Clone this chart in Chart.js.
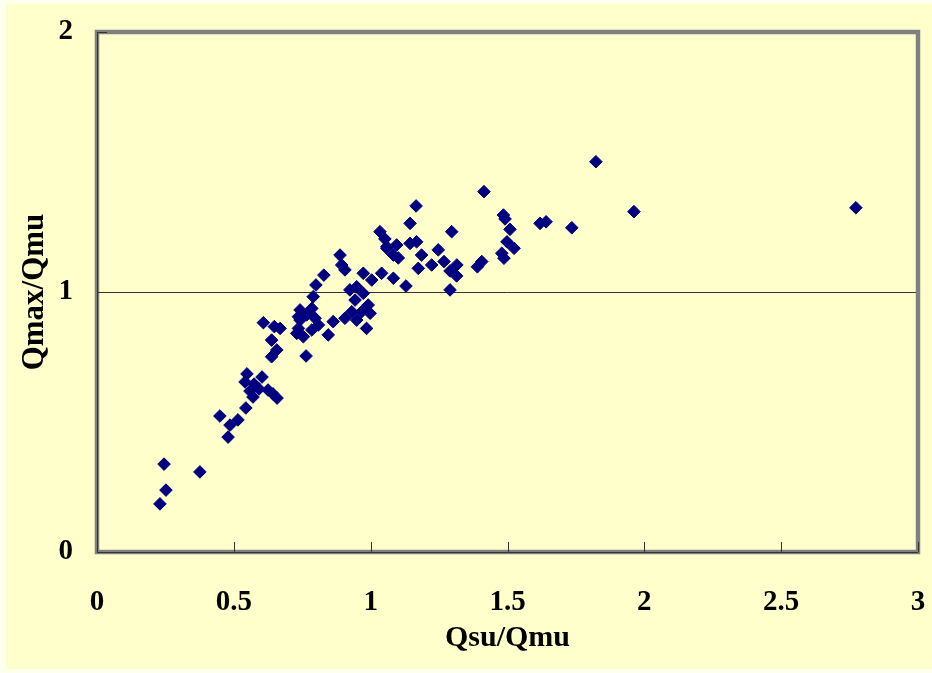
<!DOCTYPE html>
<html>
<head>
<meta charset="utf-8">
<script src="https://cdn.jsdelivr.net/npm/chart.js@4.4.1/dist/chart.umd.min.js"></script>
<style>
  html, body { margin: 0; padding: 0; background: #FFFFEE; }
  canvas { display: block; }
</style>
</head>
<body>
<canvas id="chart" width="932" height="673"></canvas>
<script>
// Shear ratio (Qsu/Qmu) against peak ratio (Qmax/Qmu), one value per specimen
const qsuRatio = [
  0.230, 0.252, 0.245, 0.376, 0.449, 0.479, 0.486, 0.515, 0.544,
  0.548, 0.541, 0.574, 0.559, 0.592, 0.603, 0.625, 0.643, 0.658, 0.570,
  0.608, 0.648, 0.669, 0.638, 0.657, 0.638, 0.764, 0.736, 0.766, 0.797, 0.736, 0.754, 0.785, 0.809, 0.863, 0.845,
  0.829, 0.800, 0.790, 0.785, 0.742, 0.742, 0.730,
  0.888, 0.894, 0.906, 0.924, 0.949, 0.973, 0.943, 0.991, 0.931, 0.967, 0.998, 0.906, 0.949, 0.985,
  0.973, 1.004, 1.040, 1.059,
  1.166, 1.144, 1.296, 1.034, 1.052, 1.095, 1.144, 1.168, 1.059, 1.083, 1.101, 1.186, 1.247, 1.223, 1.268, 1.174, 1.315, 1.290, 1.314, 1.083, 1.129, 1.290,
  1.414, 1.485, 1.491, 1.509, 1.619, 1.641, 1.735, 1.498, 1.524, 1.479, 1.487, 1.406, 1.390,
  1.823, 1.962, 2.773
];
const qmaxRatio = [
  0.185, 0.238, 0.338, 0.308, 0.523, 0.442, 0.488, 0.508, 0.554,
  0.685, 0.654, 0.646, 0.619, 0.627, 0.673, 0.623, 0.608, 0.592, 0.596,
  0.882, 0.867, 0.860, 0.815, 0.777, 0.751, 0.754, 0.905, 0.912, 0.899, 0.860, 0.828, 0.854, 0.873, 0.886, 0.835,
  1.065, 1.027, 0.982, 0.937, 0.931, 0.892, 0.841,
  1.142, 1.104, 1.085, 1.008, 1.020, 0.995, 0.969, 0.950, 0.924, 0.924, 0.918, 0.899, 0.892, 0.860,
  1.072, 1.046, 1.072, 1.174,
  1.331, 1.264, 1.232, 1.232, 1.204, 1.181, 1.187, 1.193, 1.168, 1.142, 1.131, 1.142, 1.162, 1.104, 1.117, 1.091, 1.104, 1.081, 1.062, 1.053, 1.023, 1.008,
  1.386, 1.296, 1.281, 1.241, 1.264, 1.270, 1.247, 1.193, 1.168, 1.149, 1.130, 1.117, 1.097,
  1.501, 1.309, 1.324
];
const xTicks = [0, 0.5, 1, 1.5, 2, 2.5, 3];
const yTicks = [0, 1, 2];
const xTitle = 'Qsu/Qmu';
const yTitle = 'Qmax/Qmu';

const serif = '"Liberation Serif", "Times New Roman", serif';

// Light page margin, yellow chart background
const backgroundPlugin = {
  id: 'background',
  beforeDraw(chart) {
    const ctx = chart.ctx;
    ctx.save();
    ctx.fillStyle = '#FFFFEE';
    ctx.fillRect(0, 0, chart.width, chart.height);
    ctx.fillStyle = '#FFFFCC';
    ctx.fillRect(6, 4, chart.width - 6, chart.height - 8);
    ctx.restore();
  }
};

// Grey plot frame, dark axis lines and inward tick marks
const framePlugin = {
  id: 'frame',
  afterDraw(chart) {
    const ctx = chart.ctx;
    const a = chart.chartArea;
    const xs = chart.scales.x, ys = chart.scales.y;
    ctx.save();
    ctx.strokeStyle = '#808080';
    ctx.lineWidth = 4.5;
    ctx.strokeRect(a.left, a.top, a.right - a.left, a.bottom - a.top);
    ctx.strokeStyle = '#333333';
    ctx.lineWidth = 1;
    ctx.beginPath();
    ctx.moveTo(a.left + 0.5, a.top);
    ctx.lineTo(a.left + 0.5, a.bottom + 0.5);
    ctx.lineTo(a.right, a.bottom + 0.5);
    xs.ticks.forEach(t => {
      const px = Math.round(xs.getPixelForValue(t.value)) + 0.5;
      ctx.moveTo(px, a.bottom);
      ctx.lineTo(px, a.bottom - 10);
    });
    ys.ticks.forEach(t => {
      const py = Math.round(ys.getPixelForValue(t.value)) + 0.5;
      ctx.moveTo(a.left, py);
      ctx.lineTo(a.left + 10, py);
    });
    ctx.stroke();
    ctx.restore();
  }
};

// Fixed axis box sizes; label overhang is absorbed by the layout padding
function fixBox(size, horizontal) {
  return s => {
    if (horizontal) s.height = size; else s.width = size;
    s.paddingTop = 0; s.paddingBottom = 0; s.paddingLeft = 0; s.paddingRight = 0;
  };
}

new Chart(document.getElementById('chart'), {
  type: 'scatter',
  data: {
    datasets: [{
      data: qsuRatio.map((x, i) => ({ x: x, y: qmaxRatio[i] })),
      pointStyle: 'rectRot',
      pointRadius: 6.3,
      pointHoverRadius: 6.3,
      backgroundColor: '#000080',
      borderColor: '#000080',
      borderWidth: 1
    }]
  },
  options: {
    responsive: false,
    animation: false,
    devicePixelRatio: 1,
    layout: { padding: { left: 6, right: 14, top: 32, bottom: 0 } },
    plugins: { legend: { display: false }, tooltip: { enabled: false } },
    scales: {
      x: {
        type: 'linear',
        min: 0,
        max: 3,
        afterBuildTicks: s => { s.ticks = xTicks.map(v => ({ value: v })); },
        afterFit: fixBox(121, true),
        grid: { display: false, drawTicks: false },
        border: { display: false },
        ticks: {
          padding: 33,
          color: '#000',
          maxRotation: 0,
          autoSkip: false,
          callback: v => String(v),
          font: { family: serif, size: 29, weight: 'bold' }
        },
        title: {
          display: true,
          text: xTitle,
          color: '#000',
          font: { family: serif, size: 30, weight: 'bold' },
          padding: { top: 0, bottom: 17 }
        }
      },
      y: {
        type: 'linear',
        min: 0,
        max: 2,
        afterBuildTicks: s => { s.ticks = yTicks.map(v => ({ value: v })); },
        afterFit: fixBox(91, false),
        grid: {
          drawTicks: false,
          lineWidth: 1,
          color: c => (c.tick && c.tick.value === 1) ? '#333333' : 'rgba(0,0,0,0)'
        },
        border: { display: false },
        ticks: {
          padding: 24,
          color: '#000',
          callback: v => String(v),
          font: { family: serif, size: 29, weight: 'bold' }
        },
        title: {
          display: true,
          text: yTitle,
          color: '#000',
          font: { family: serif, size: 31, weight: 'bold' },
          padding: { top: 10, bottom: 0 }
        }
      }
    }
  },
  plugins: [backgroundPlugin, framePlugin]
});
</script>
</body>
</html>
